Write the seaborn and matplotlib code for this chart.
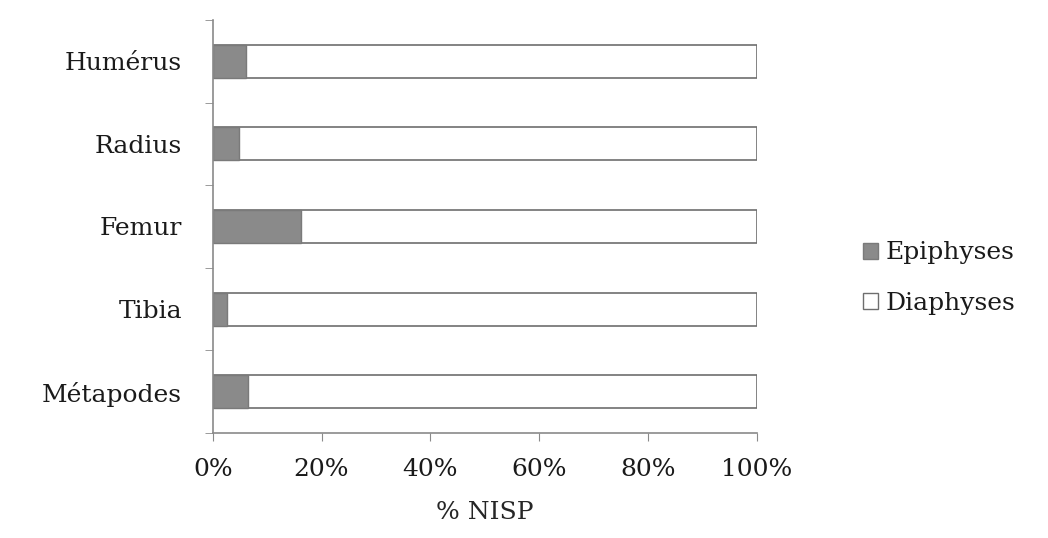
import matplotlib
matplotlib.use("Agg")
import matplotlib.pyplot as plt
import seaborn as sns
import pandas as pd
import numpy as np
from matplotlib.patches import Patch
from matplotlib.ticker import FixedLocator

categories = ["Humérus", "Radius", "Femur", "Tibia", "Métapodes"]
epiphyses = [6.1, 4.9, 16.3, 2.7, 6.5]
diaphyses = [100 - v for v in epiphyses]
xtick_labels = ["0%", "20%", "40%", "60%", "80%", "100%"]

sns.set_style("white")
plt.rcParams['font.family'] = ['DejaVu Serif']
plt.rcParams['text.color'] = '#1a1a1a'
plt.rcParams['xtick.color'] = '#1a1a1a'
plt.rcParams['ytick.color'] = '#1a1a1a'

df = pd.DataFrame({
    "cat": categories,
    "epi": epiphyses,
    "total": [e + d for e, d in zip(epiphyses, diaphyses)],
})

fig = plt.figure(figsize=(10.48, 5.38), dpi=100)
ax = fig.add_axes([0.203, 0.195, 0.519, 0.768])

sns.barplot(data=df, y="cat", x="total", color="white", edgecolor="#6e6e6e",
            linewidth=1.2, width=0.4, ax=ax, orient="h")
sns.barplot(data=df, y="cat", x="epi", color="#8a8a8a", edgecolor="#7a7a7a",
            linewidth=1.0, width=0.4, ax=ax, orient="h", saturation=1)

FS = 18
ax.set_xlim(0, 100)
ax.set_ylim(4.5, -0.5)
ax.set_xticks([0, 20, 40, 60, 80, 100])
ax.set_xticklabels(xtick_labels, fontsize=FS)
ax.set_ylabel("")
ax.set_xlabel("% NISP", fontsize=FS, labelpad=14)
ax.tick_params(axis="y", which="major", length=0, labelsize=FS, pad=22)
ax.yaxis.set_minor_locator(FixedLocator(np.arange(-0.5, 5.0, 1.0)))
ax.tick_params(axis="y", which="minor", length=6, color="#8a8a8a", direction="out", left=True)
ax.tick_params(axis="x", which="major", length=6, color="#8a8a8a", direction="out", bottom=True, pad=12)
for lbl in ax.get_yticklabels():
    lbl.set_va("center_baseline")

for s in ["top", "right"]:
    ax.spines[s].set_visible(False)
for s in ["left", "bottom"]:
    ax.spines[s].set_color("#8a8a8a")
    ax.spines[s].set_linewidth(1.2)

handles = [Patch(facecolor="#8a8a8a", edgecolor="#7a7a7a", label="Epiphyses"),
           Patch(facecolor="white", edgecolor="#6e6e6e", label="Diaphyses")]
fig.legend(handles=handles, loc="center left", bbox_to_anchor=(0.814, 0.483),
           frameon=False, fontsize=FS, handlelength=0.6, handleheight=0.6,
           handletextpad=0.3, labelspacing=1.1, borderaxespad=0)

fig.savefig("out.png", dpi=100, facecolor="white")
